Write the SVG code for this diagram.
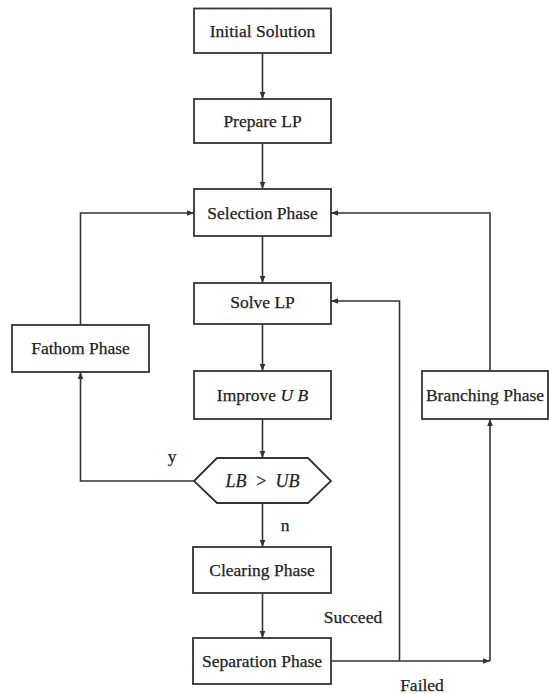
<svg xmlns="http://www.w3.org/2000/svg" width="549" height="694" viewBox="0 0 549 694">
<style>
.box{fill:#fff;stroke:#333;stroke-width:1.8}
.ln{fill:none;stroke:#333;stroke-width:1.6}
text{font-family:"Liberation Serif","Times New Roman",serif;font-size:17.5px;fill:#222;text-anchor:middle;dominant-baseline:central;stroke:#222;stroke-width:0.25}
.it{font-style:italic}
</style>
<defs>
<marker id="ah" viewBox="0 0 10 10" refX="10" refY="5" markerWidth="7" markerHeight="7" orient="auto" markerUnits="userSpaceOnUse">
<path d="M0,1 L10,5 L0,9 Z" fill="#333"/>
</marker>
</defs>
<rect width="549" height="694" fill="#fff"/>
<g id="connectors">
<line class="ln" x1="262.5" y1="53" x2="262.5" y2="99" marker-end="url(#ah)"/>
<line class="ln" x1="262.5" y1="143" x2="262.5" y2="189" marker-end="url(#ah)"/>
<line class="ln" x1="262.5" y1="236" x2="262.5" y2="283" marker-end="url(#ah)"/>
<line class="ln" x1="262.5" y1="324" x2="262.5" y2="371" marker-end="url(#ah)"/>
<line class="ln" x1="262.5" y1="419" x2="262.5" y2="458" marker-end="url(#ah)"/>
<line class="ln" x1="262.5" y1="503" x2="262.5" y2="547" marker-end="url(#ah)"/>
<line class="ln" x1="262.5" y1="593" x2="262.5" y2="638" marker-end="url(#ah)"/>
<polyline class="ln" points="194,481 80.5,481 80.5,372" marker-end="url(#ah)"/>
<polyline class="ln" points="80.5,325 80.5,213 194,213" marker-end="url(#ah)"/>
<polyline class="ln" points="490,371 490,213 331,213" marker-end="url(#ah)"/>
<polyline class="ln" points="331,661 490,661" marker-end="url(#ah)"/>
<line class="ln" x1="490" y1="661" x2="490" y2="419" marker-end="url(#ah)"/>
<polyline class="ln" points="399.5,661 399.5,301 331,301" marker-end="url(#ah)"/>
<text x="172" y="456">y</text>
<text x="285" y="525">n</text>
<text x="353" y="617">Succeed</text>
<text x="422" y="685">Failed</text>
</g>
<g id="initial"><rect class="box" x="194" y="8.5" width="137" height="44.5"/><text x="262.5" y="31">Initial Solution</text></g>
<g id="prepare"><rect class="box" x="194" y="99" width="137" height="44"/><text x="262.5" y="121">Prepare LP</text></g>
<g id="selection"><rect class="box" x="194" y="189" width="137" height="47"/><text x="262.5" y="213">Selection Phase</text></g>
<g id="solve"><rect class="box" x="194" y="283" width="137" height="41"/><text x="262.5" y="302">Solve LP</text></g>
<g id="fathom"><rect class="box" x="12" y="325" width="137" height="47"/><text x="80.5" y="348">Fathom Phase</text></g>
<g id="improve"><rect class="box" x="194" y="371" width="137" height="48"/><text x="262.5" y="395">Improve <tspan class="it">U B</tspan></text></g>
<g id="branching"><rect class="box" x="422" y="371" width="126" height="48"/><text x="485" y="395">Branching Phase</text></g>
<g id="decision"><polygon class="box" points="194,481 217,458 308,458 331,481 308,503 217,503"/><text x="262.5" y="481" class="it" style="font-size:18px;word-spacing:4px">LB &gt; UB</text></g>
<g id="clearing"><rect class="box" x="193" y="547" width="138" height="46"/><text x="262" y="570">Clearing Phase</text></g>
<g id="separation"><rect class="box" x="193" y="638" width="138" height="46"/><text x="262" y="661">Separation Phase</text></g>
</svg>
